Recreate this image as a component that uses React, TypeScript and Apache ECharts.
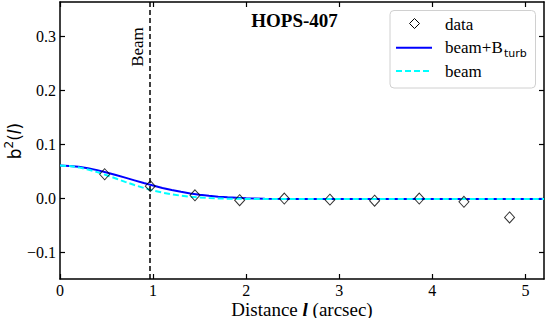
import React, { useEffect, useRef } from "react";
import * as echarts from "echarts";

// ---- data ----
const dataX = [0.48, 0.97, 1.45, 1.93, 2.41, 2.9, 3.38, 3.86, 4.34, 4.83];
const dataY = [0.044, 0.022, 0.005, -0.004, -0.001, -0.003, -0.005, -0.001, -0.007, -0.036];

const curveX = [0, 0.1, 0.2, 0.3, 0.4, 0.5, 0.6, 0.7, 0.8, 0.9, 1.0, 1.1, 1.2, 1.3, 1.4, 1.5, 1.6, 1.7, 1.8, 1.9, 2.0, 2.2, 2.5, 3.0, 4.0, 5.2];
const beamTurbY = [0.06, 0.0594, 0.0578, 0.0551, 0.0516, 0.0474, 0.0427, 0.0377, 0.0327, 0.0277, 0.023, 0.0187, 0.0148, 0.0114, 0.0085, 0.0061, 0.0041, 0.0025, 0.0013, 0.0003, -0.0004, -0.0012, -0.0017, -0.002, -0.002, -0.002];
const beamY = [0.06, 0.0592, 0.0567, 0.0529, 0.0479, 0.0422, 0.0361, 0.0299, 0.024, 0.0187, 0.014, 0.01, 0.0068, 0.0043, 0.0024, 0.0009, -0.0001, -0.0008, -0.0012, -0.0015, -0.0017, -0.0019, -0.002, -0.002, -0.002, -0.002];

const beamSize = 0.96;
const xTicks = [0, 1, 2, 3, 4, 5];
const yTicks = [-0.1, 0, 0.1, 0.2, 0.3];

const SERIF = "'Liberation Serif', 'DejaVu Serif', serif";
const SANS = "'DejaVu Sans', sans-serif";

export default function App() {
  const ref = useRef<HTMLDivElement>(null);
  useEffect(() => {
    if (!ref.current) return;
    const chart = echarts.init(ref.current, undefined, { renderer: "svg" });
    const fmtY = (v: number) => {
      const s = Math.abs(v).toFixed(1);
      return v < -1e-9 ? "\u2212" + s : s;
    };
    const axisCommon = {
      axisLine: { show: true, onZero: false, lineStyle: { color: "#000", width: 1.5 } },
      splitLine: { show: false },
    };
    const tick = (vals: number[]) => ({ show: true, inside: true, length: 5, lineStyle: { color: "#000", width: 1.2 }, customValues: vals });
    const option: any = {
      animation: false,
      backgroundColor: "#fff",
      grid: { left: 60, right: 2, top: 2, bottom: 39, containLabel: false, outerBoundsMode: "none" },
      xAxis: [
        {
          type: "value",
          min: 0,
          max: 5.2,
          ...axisCommon,
          axisTick: tick(xTicks),
          axisLabel: { customValues: xTicks, color: "#000", fontFamily: SERIF, fontSize: 16, margin: 3, formatter: (v: number) => String(v) },
        },
        {
          type: "value",
          position: "top",
          min: 0,
          max: 5.2,
          ...axisCommon,
          axisTick: tick(xTicks),
          axisLabel: { show: false },
        },
      ],
      yAxis: [
        {
          type: "value",
          min: -0.15,
          max: 0.363,
          ...axisCommon,
          axisTick: tick(yTicks),
          axisLabel: { customValues: yTicks, color: "#000", fontFamily: SERIF, fontSize: 16, margin: 4, formatter: fmtY },
        },
        {
          type: "value",
          position: "right",
          min: -0.15,
          max: 0.363,
          ...axisCommon,
          axisTick: tick(yTicks),
          axisLabel: { show: false },
        },
      ],
      series: [
        {
          name: "beam+Bturb",
          type: "line",
          data: curveX.map((x, i) => [x, beamTurbY[i]]),
          smooth: false,
          showSymbol: false,
          symbol: "none",
          lineStyle: { color: "#0000ff", width: 2 },
          z: 2,
          markLine: {
            silent: true,
            symbol: "none",
            label: { show: false },
            lineStyle: { color: "#000", width: 1.5, type: [5, 3] },
            data: [{ xAxis: beamSize }],
          },
        },
        {
          name: "beam",
          type: "line",
          data: curveX.map((x, i) => [x, beamY[i]]),
          smooth: false,
          showSymbol: false,
          symbol: "none",
          lineStyle: { color: "#00ffff", width: 2, type: [6, 3] },
          z: 3,
        },
        {
          name: "data",
          type: "scatter",
          data: dataX.map((x, i) => [x, dataY[i]]),
          symbol: "diamond",
          symbolSize: [10, 11],
          itemStyle: { color: "rgba(0,0,0,0)", borderColor: "#000", borderWidth: 1 },
          z: 4,
        },
      ],
      graphic: [
        {
          type: "text",
          x: 302,
          y: 309,
          style: {
            text: "{a|Distance }{b|l}{a| (arcsec)}",
            align: "center",
            verticalAlign: "middle",
            rich: {
              a: { fontFamily: SERIF, fontSize: 19, fill: "#000" },
              b: { fontFamily: SERIF, fontSize: 19, fill: "#000", fontWeight: "bold", fontStyle: "italic" },
            },
          },
        },
        {
          type: "text",
          x: 13,
          y: 141,
          rotation: Math.PI / 2,
          style: {
            text: "{a|b}{s|2}{a|(}{i|l}{a|)}",
            align: "center",
            verticalAlign: "middle",
            rich: {
              a: { fontFamily: SANS, fontSize: 17, fill: "#000", lineHeight: 20, verticalAlign: "bottom" },
              s: { fontFamily: SANS, fontSize: 12, fill: "#000", lineHeight: 20, verticalAlign: "top" },
              i: { fontFamily: SANS, fontSize: 17, fill: "#000", fontStyle: "italic", lineHeight: 20, verticalAlign: "bottom" },
            },
          },
        },
        {
          type: "text",
          x: 294.5,
          y: 20,
          style: { text: "HOPS-407", fontFamily: SERIF, fontSize: 19, fontWeight: "bold", fill: "#000", align: "center", verticalAlign: "middle" },
          z: 10,
        },
        {
          type: "text",
          x: 137,
          y: 47,
          rotation: Math.PI / 2,
          style: { text: "Beam", fontFamily: SERIF, fontSize: 17, fill: "#000", align: "center", verticalAlign: "middle" },
          z: 10,
        },
        {
          type: "rect",
          shape: { x: 390, y: 10.5, width: 145.5, height: 77.5, r: 4 },
          style: { fill: "rgba(255,255,255,0.8)", stroke: "#d0d0d0", lineWidth: 1 },
          z: 10,
        },
        {
          type: "polygon",
          shape: { points: [[414.5, 18.5], [419.5, 23.5], [414.5, 28.5], [409.5, 23.5]] },
          style: { fill: "none", stroke: "#000", lineWidth: 1 },
          z: 11,
        },
        {
          type: "text",
          x: 445,
          y: 24,
          style: { text: "data", fontFamily: SERIF, fontSize: 17, fill: "#000", verticalAlign: "middle" },
          z: 11,
        },
        {
          type: "line",
          shape: { x1: 396, y1: 47.7, x2: 432, y2: 47.7 },
          style: { stroke: "#0000ff", lineWidth: 2 },
          z: 11,
        },
        {
          type: "text",
          x: 445,
          y: 47.5,
          style: { text: "beam+B", fontFamily: SERIF, fontSize: 17, fill: "#000", verticalAlign: "middle" },
          z: 11,
        },
        {
          type: "text",
          x: 504,
          y: 53,
          style: { text: "turb", fontFamily: SANS, fontSize: 11, fill: "#000", verticalAlign: "middle" },
          z: 11,
        },
        {
          type: "line",
          shape: { x1: 396, y1: 71, x2: 432, y2: 71 },
          style: { stroke: "#00ffff", lineWidth: 2, lineDash: [6, 3] },
          z: 11,
        },
        {
          type: "text",
          x: 445,
          y: 71,
          style: { text: "beam", fontFamily: SERIF, fontSize: 17, fill: "#000", verticalAlign: "middle" },
          z: 11,
        },
      ],
    };
    chart.setOption(option);
    return () => chart.dispose();
  }, []);
  return <div ref={ref} style={{ width: 546, height: 318, position: "absolute", left: 0, top: 0 }} />;
}
